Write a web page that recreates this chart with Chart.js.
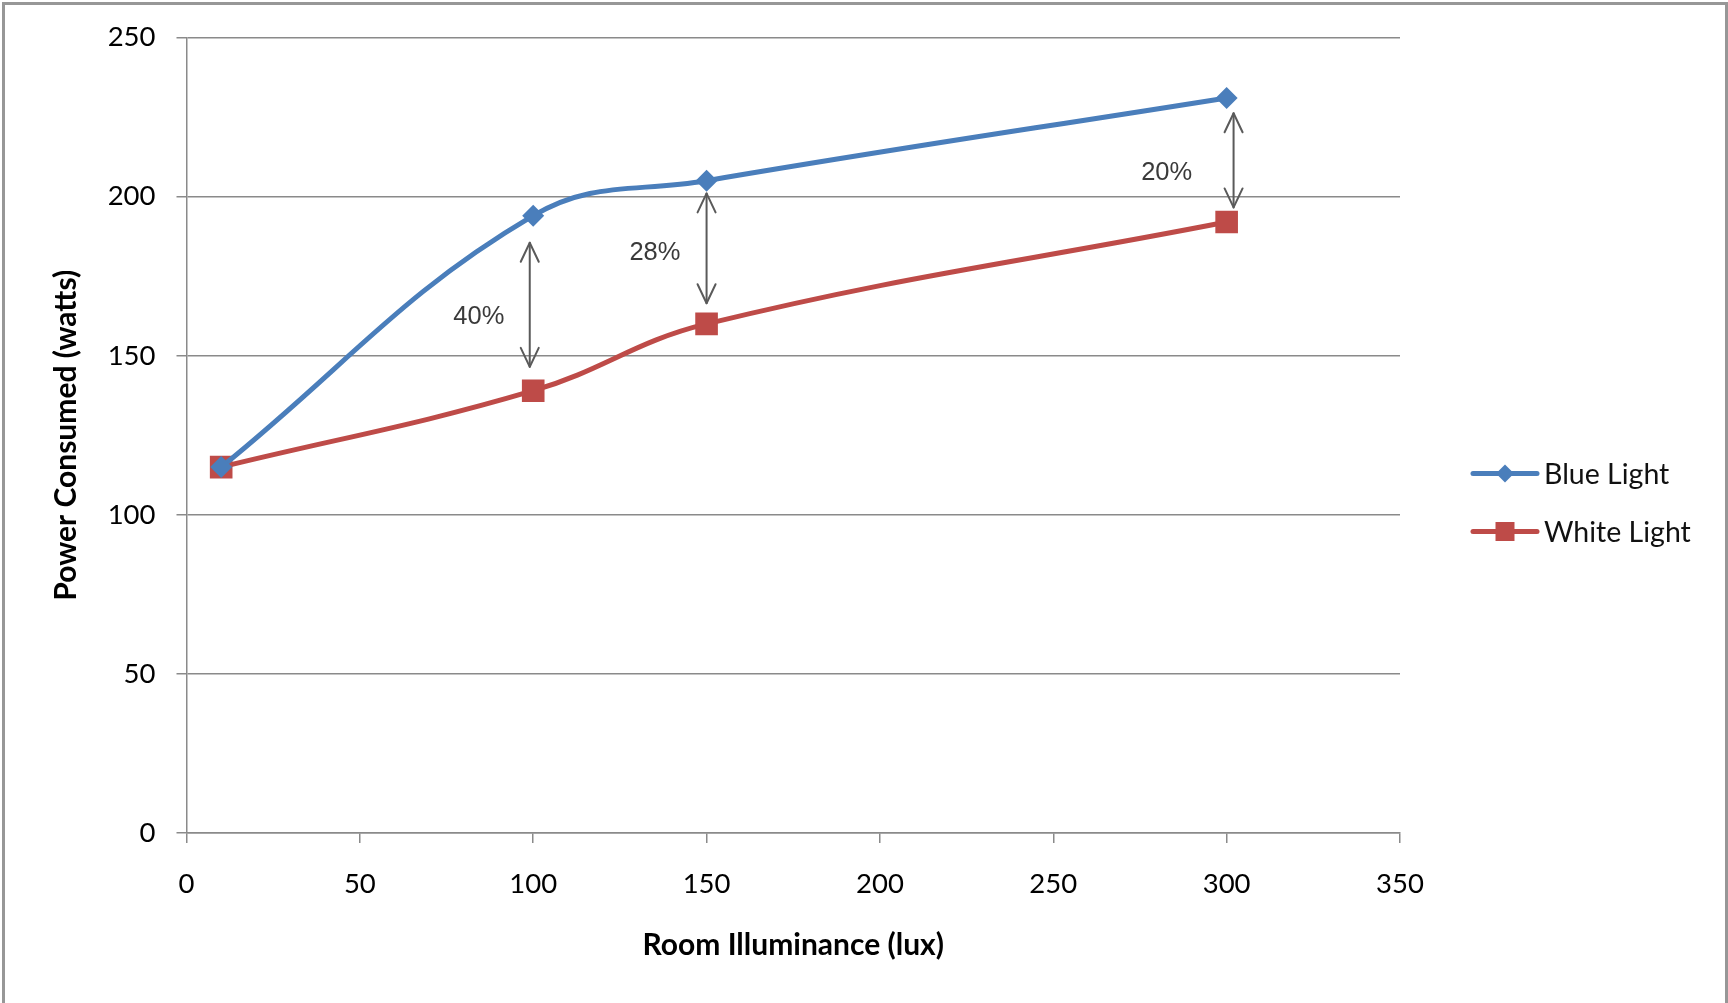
<!DOCTYPE html>
<html>
<head>
<meta charset="utf-8">
<title>Power Consumed vs Room Illuminance</title>
<script src="https://cdn.jsdelivr.net/npm/chart.js@4/dist/chart.umd.min.js"></script>
<style>
  html, body { margin: 0; padding: 0; background: #ffffff; }
  #wrap { width: 1728px; height: 1003px; position: relative; }
  canvas { display: block; }
</style>
</head>
<body>
<div id="wrap"><canvas id="chart" width="1728" height="1003"></canvas></div>
<script>
// Room illuminance (lux) and power drawn (watts) for each lighting type
const illuminance = [10, 100, 150, 300];
const blueLight = [115, 194, 205, 231];
const whiteLight = [115, 139, 160, 192];

// Axis ranges and tick step
const xTicks = [0, 350, 50];
const yTicks = [0, 250, 50];

// Savings callouts: double arrow between the two curves plus a percentage label
const gapLabels = ['40%', '28%', '20%'];
const gapArrowX = [99, 150, 302];
const gapArrowTop = [185.5, 201, 226.2];
const gapArrowBottom = [146.5, 166.5, 196.6];
const gapLabelX = [84.3, 135.1, 282.7];
const gapLabelY = [162.3, 182.4, 207.5];

const seriesNames = ['Blue Light', 'White Light'];
const BLUE = '#4a7ebb';
const RED = '#be4b48';
const GRID = '#8a8a8a';
const FAMILY = 'Lato, "Open Sans", sans-serif';
const TICK_FONT = { family: FAMILY, size: 27.5 };
const TITLE_FONT = { family: FAMILY, size: 30, weight: 'bold' };

const toPoints = (xs, ys) => xs.map((x, i) => ({ x: x, y: ys[i] }));

// Outer frame around the whole chart
const framePlugin = {
  id: 'frame',
  beforeDraw(chart) {
    const ctx = chart.ctx;
    ctx.save();
    ctx.fillStyle = '#ffffff';
    ctx.fillRect(0, 0, chart.width, chart.height);
    ctx.strokeStyle = '#979797';
    ctx.lineWidth = 3;
    ctx.strokeRect(3.5, 3.5, chart.width - 5, chart.height - 2);
    ctx.restore();
  }
};

// Double-headed arrows and percentage labels
const gapPlugin = {
  id: 'gaps',
  afterDatasetsDraw(chart) {
    const { ctx, scales: { x, y } } = chart;
    ctx.save();
    ctx.strokeStyle = '#5a5a5a';
    ctx.lineWidth = 2;
    ctx.lineCap = 'round';
    ctx.lineJoin = 'round';
    const head = (px, py, dir) => {
      ctx.beginPath();
      ctx.moveTo(px - 9, py + dir * 19);
      ctx.lineTo(px, py);
      ctx.lineTo(px + 9, py + dir * 19);
      ctx.stroke();
    };
    gapArrowX.forEach((v, i) => {
      const px = x.getPixelForValue(v);
      const top = y.getPixelForValue(gapArrowTop[i]);
      const bot = y.getPixelForValue(gapArrowBottom[i]);
      ctx.beginPath();
      ctx.moveTo(px, top);
      ctx.lineTo(px, bot);
      ctx.stroke();
      head(px, top, 1);
      head(px, bot, -1);
    });
    ctx.fillStyle = '#3a3a3a';
    ctx.font = '25.5px "Liberation Sans", Arial, sans-serif';
    ctx.textAlign = 'center';
    ctx.textBaseline = 'middle';
    gapLabels.forEach((t, i) => {
      ctx.fillText(t, x.getPixelForValue(gapLabelX[i]), y.getPixelForValue(gapLabelY[i]));
    });
    ctx.restore();
  }
};

// Legend on the right: line with marker, then the series name
const legendPlugin = {
  id: 'sideLegend',
  afterDraw(chart) {
    const ctx = chart.ctx;
    const rows = [
      { name: seriesNames[0], color: BLUE, marker: 'diamond', y: 473.5 },
      { name: seriesNames[1], color: RED, marker: 'square', y: 531.5 }
    ];
    ctx.save();
    rows.forEach(r => {
      ctx.strokeStyle = r.color;
      ctx.lineWidth = 5;
      ctx.lineCap = 'round';
      ctx.beginPath();
      ctx.moveTo(1473, r.y);
      ctx.lineTo(1537, r.y);
      ctx.stroke();
      ctx.fillStyle = r.color;
      ctx.beginPath();
      if (r.marker === 'diamond') {
        ctx.moveTo(1505, r.y - 9);
        ctx.lineTo(1514, r.y);
        ctx.lineTo(1505, r.y + 9);
        ctx.lineTo(1496, r.y);
        ctx.closePath();
      } else {
        ctx.rect(1495.5, r.y - 9.5, 19, 19);
      }
      ctx.fill();
      ctx.fillStyle = '#111111';
      ctx.font = '28.5px ' + FAMILY;
      ctx.textAlign = 'left';
      ctx.textBaseline = 'middle';
      ctx.fillText(r.name, 1544, r.y + 1);
    });
    ctx.restore();
  }
};

new Chart(document.getElementById('chart'), {
  type: 'line',
  data: {
    datasets: [
      {
        label: seriesNames[0],
        data: toPoints(illuminance, blueLight),
        borderColor: BLUE,
        backgroundColor: BLUE,
        borderWidth: 5,
        tension: 0.4,
        pointStyle: 'rectRot',
        pointRadius: 11,
        pointBorderWidth: 0,
        pointBackgroundColor: BLUE,
        fill: false
      },
      {
        label: seriesNames[1],
        data: toPoints(illuminance, whiteLight),
        borderColor: RED,
        backgroundColor: RED,
        borderWidth: 5,
        tension: 0.4,
        pointStyle: 'rect',
        pointRadius: 16,
        pointBorderWidth: 0,
        pointBackgroundColor: RED,
        fill: false
      }
    ]
  },
  options: {
    responsive: false,
    animation: false,
    devicePixelRatio: 1,
    layout: { padding: { left: 0, top: 37.5, right: 328, bottom: 0 } },
    plugins: {
      legend: { display: false },
      tooltip: { enabled: false }
    },
    scales: {
      x: {
        type: 'linear',
        min: xTicks[0],
        max: xTicks[1],
        afterFit(scale) { scale.height = 170; },
        ticks: { stepSize: xTicks[2], color: '#000000', font: TICK_FONT, padding: 25, maxRotation: 0 },
        grid: { drawOnChartArea: false, drawTicks: true, tickLength: 10, color: GRID, lineWidth: 1.5 },
        border: { display: true, color: GRID, width: 1.5 },
        title: {
          display: true,
          text: 'Room Illuminance (lux)',
          color: '#000000',
          font: TITLE_FONT,
          padding: { top: 0, bottom: 39.5 }
        }
      },
      y: {
        type: 'linear',
        min: yTicks[0],
        max: yTicks[1],
        afterFit(scale) { scale.width = 186.5; },
        ticks: { stepSize: yTicks[2], color: '#000000', font: TICK_FONT, padding: 21 },
        grid: { drawOnChartArea: true, drawTicks: true, tickLength: 10, color: GRID, lineWidth: 1.5 },
        border: { display: true, color: GRID, width: 1.5 },
        title: {
          display: true,
          text: 'Power Consumed (watts)',
          color: '#000000',
          font: TITLE_FONT,
          padding: { top: 48, bottom: 0 }
        }
      }
    }
  },
  plugins: [framePlugin, gapPlugin, legendPlugin]
});
</script>
</body>
</html>
